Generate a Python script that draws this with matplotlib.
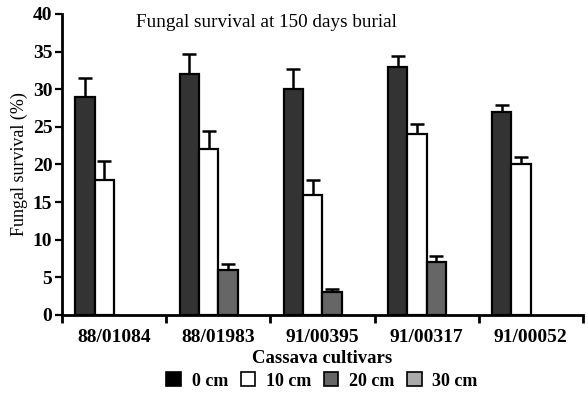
import numpy as np
import matplotlib
matplotlib.use("Agg")
from matplotlib import pyplot as plt
from matplotlib.ticker import FixedLocator

plt.rcParams["font.family"] = ["Liberation Serif", "DejaVu Serif"]

cultivars = ["88/01084", "88/01983", "91/00395", "91/00317", "91/00052"]
depths = ["0 cm", "10 cm", "20 cm", "30 cm"]
survival = [
    [29, 32, 30, 33, 27],
    [18, 22, 16, 24, 20],
    [0, 6, 3, 7, 0],
    [0, 0, 0, 0, 0],
]
errors = [
    [2.5, 2.7, 2.7, 1.4, 0.9],
    [2.5, 2.4, 2.0, 1.4, 1.0],
    [0, 0.8, 0.5, 0.9, 0],
    [0, 0, 0, 0, 0],
]
colors = ["#333333", "#ffffff", "#666666", "#aaaaaa"]
legend_colors = ["#000000", "#ffffff", "#666666", "#aaaaaa"]

fig = plt.figure(figsize=(5.88, 4.03), dpi=100)
ax = fig.add_axes([0.1054, 0.2184, 0.886, 0.747])

x = np.arange(len(cultivars))
w = 0.186
for i, (vals, errs) in enumerate(zip(survival, errors)):
    pos = x + (i - 1.5) * w
    vals = np.array(vals)
    errs = np.array(errs)
    ax.bar(pos[vals > 0], vals[vals > 0], width=w, color=colors[i],
           edgecolor="black", linewidth=1.6, zorder=2)
    m = errs > 0
    if m.any():
        ax.errorbar(pos[m], vals[m], yerr=[np.zeros(m.sum()), errs[m]],
                    fmt="none", ecolor="black", elinewidth=1.8, capsize=5, capthick=1.8, zorder=1)

ax.set_xlim(-0.5, 4.5)
ax.set_ylim(0, 40)
ax.set_yticks(range(0, 41, 5))
ax.set_xticks(x)
ax.set_xticklabels(cultivars)
ax.xaxis.set_minor_locator(FixedLocator(np.arange(-0.5, 5, 1)))
ax.tick_params(axis="x", which="major", length=0, pad=10)
ax.tick_params(axis="x", which="minor", length=6, width=2, direction="out")
ax.tick_params(axis="y", length=5, width=1.6, pad=2)
for lab in ax.get_xticklabels() + ax.get_yticklabels():
    lab.set_fontsize(14)
    lab.set_fontweight("bold")

for s in ["top", "right"]:
    ax.spines[s].set_visible(False)
for s in ["left", "bottom"]:
    ax.spines[s].set_linewidth(2)

ax.set_xlabel("Cassava cultivars", fontsize=13.5, fontweight="bold", labelpad=3)
ax.set_ylabel("Fungal survival (%)", fontsize=13, labelpad=3)
ax.text(0.392, 0.972, "Fungal survival at 150 days burial", transform=ax.transAxes,
        fontsize=13.8, ha="center", va="center")

handles = [plt.Rectangle((0, 0), 1, 1, facecolor=c, edgecolor="black", linewidth=1.2)
           for c in legend_colors]
leg = fig.legend(handles, depths, loc="center", bbox_to_anchor=(322 / 588, 1 - 381 / 403),
                 ncol=4, frameon=False, handlelength=0.8, handleheight=0.8,
                 handletextpad=0.6, columnspacing=0.7, prop={"size": 13, "weight": "bold"})

fig.savefig("out.png", dpi=100)
